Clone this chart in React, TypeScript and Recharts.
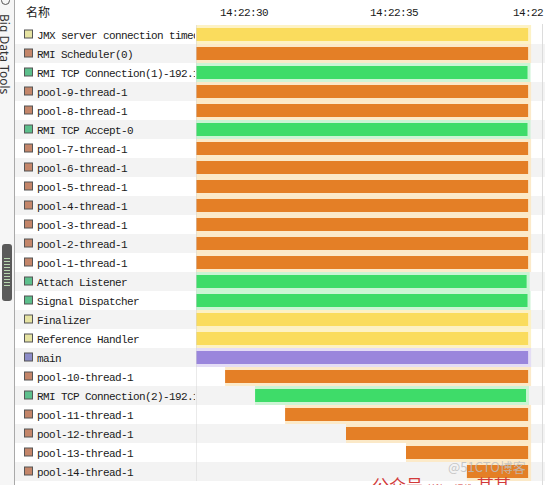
import React from "react"
import { BarChart, Bar, XAxis, YAxis, CartesianGrid } from "recharts"

// thread names, top to bottom
const threads = [
  "JMX server connection timeout",
  "RMI Scheduler(0)",
  "RMI TCP Connection(1)-192.1",
  "pool-9-thread-1",
  "pool-8-thread-1",
  "RMI TCP Accept-0",
  "pool-7-thread-1",
  "pool-6-thread-1",
  "pool-5-thread-1",
  "pool-4-thread-1",
  "pool-3-thread-1",
  "pool-2-thread-1",
  "pool-1-thread-1",
  "Attach Listener",
  "Signal Dispatcher",
  "Finalizer",
  "Reference Handler",
  "main",
  "pool-10-thread-1",
  "RMI TCP Connection(2)-192.1",
  "pool-11-thread-1",
  "pool-12-thread-1",
  "pool-13-thread-1",
  "pool-14-thread-1",
]

const states = [
  "wait", "park", "running", "park", "park", "running",
  "park", "park", "park", "park", "park", "park", "park",
  "running", "running", "wait", "wait", "sleeping",
  "park", "running", "park", "park", "park", "park",
]

// seconds after 14:22:00
const starts = [
  28.4, 28.4, 28.4, 28.4, 28.4, 28.4, 28.4, 28.4, 28.4, 28.4, 28.4, 28.4,
  28.4, 28.4, 28.4, 28.4, 28.4, 28.4, 29.37, 30.37, 31.37, 33.4, 35.4, 37.43,
]
const ends = [
  39.47, 39.47, 39.45, 39.47, 39.47, 39.45, 39.47, 39.47, 39.47, 39.47, 39.47, 39.47,
  39.47, 39.42, 39.45, 39.47, 39.47, 39.47, 39.47, 39.4, 39.47, 39.47, 39.47, 39.47,
]

const timeTicks = [30, 35, 40]

const barColor: Record<string, string> = {
  running: "#3edc69",
  park: "#e47f26",
  wait: "#fadc5d",
  sleeping: "#9a86dc",
}
const haloColor: Record<string, string> = {
  running: "#c4f3ce",
  park: "#fce6c0",
  wait: "#fdf0bb",
  sleeping: "#e0d8f5",
}
const iconColor: Record<string, string> = {
  running: "#5dbf8c",
  park: "#c4866a",
  wait: "#e6e3a2",
  sleeping: "#8c8cc8",
}
const rowFill = ["#ffffff", "#f3f3f3"]

const mono = "'Liberation Mono', 'DejaVu Sans Mono', monospace"

const data = threads.map((name, i) => ({
  name,
  state: states[i],
  span: [starts[i], ends[i]],
}))

const NameTick = (props: any) => {
  const { y, payload } = props
  const i = payload.index
  const st = states[i]
  return (
    <g>
      <defs>
        <clipPath id={`nc-${i}`}>
          <rect x={15} y={y - 10} width={180} height={20} />
        </clipPath>
      </defs>
      <rect x={15} y={y - 9.5} width={181} height={19} fill={rowFill[i % 2]} />
      <rect x={24.5} y={y - 4.5} width={8} height={8} fill={iconColor[st]} stroke="#555" strokeWidth={1} />
      <text
        x={37}
        y={y + 4}
        fontFamily={mono}
        fontSize={11}
        letterSpacing={-0.6}
        fill="#1a1a1a"
        clipPath={`url(#nc-${i})`}
      >
        {payload.value}
      </text>
    </g>
  )
}

const TimeTick = (props: any) => {
  const { x, payload } = props
  const s = String(payload.value).padStart(2, "0")
  return (
    <text x={x} y={16} textAnchor="middle" fontFamily={mono} fontSize={11} letterSpacing={-0.6} fill="#1a1a1a">
      {`14:22:${s}`}
    </text>
  )
}

const SpanBar = (props: any) => {
  const { x, y, width, height, payload } = props
  const st = payload.state
  return (
    <g>
      <rect x={x} y={y - 3} width={width + 3} height={height + 6} fill={haloColor[st]} fillOpacity={0.85} />
      <rect x={x} y={y} width={width} height={height} fill={barColor[st]} />
    </g>
  )
}

const RowBg = (props: any) => {
  const { x, y, width, height, index } = props
  return <rect x={x} y={y - 3} width={width} height={height + 6} fill={rowFill[(index ?? 0) % 2]} />
}

export default function App() {
  return (
    <div style={{ position: "absolute", left: 0, top: 0, width: 545, height: 485, background: "#fff", overflow: "hidden" }}>
      <BarChart
        width={545}
        height={485}
        data={data}
        layout="vertical"
        barSize={13}
        margin={{ top: 1, right: 0, bottom: 4, left: 0 }}
      >
        <CartesianGrid horizontal={false} stroke="#c9c9c9" strokeWidth={1} />
        <XAxis
          type="number"
          orientation="top"
          domain={[28.4, 40.033]}
          ticks={timeTicks}
          allowDataOverflow
          height={24}
          axisLine={false}
          tickLine={false}
          tick={<TimeTick />}
        />
        <YAxis
          type="category"
          dataKey="name"
          width={196}
          interval={0}
          axisLine={{ stroke: "#d6d6d6" }}
          tickLine={false}
          tick={<NameTick />}
        />
        <Bar dataKey="span" isAnimationActive={false} shape={<SpanBar />} background={<RowBg />} />
      </BarChart>

      {/* header */}
      <div style={{ position: "absolute", left: 26, top: 3, fontFamily: "'Noto Sans CJK SC'", fontSize: 12, color: "#1a1a1a" }}>名称</div>

      {/* side tool strip */}
      <div style={{ position: "absolute", left: 0, top: 0, width: 14, height: 485, background: "#f6f6f6", borderRight: "1px solid #a9a9a9" }} />
      <div style={{ position: "absolute", left: 1, top: -4, width: 9, height: 9, borderRadius: 5, border: "1.5px solid #555", boxSizing: "border-box" }} />
      <div
        style={{
          position: "absolute",
          left: 13,
          top: 14,
          transform: "rotate(90deg)",
          transformOrigin: "0 0",
          fontFamily: "'Noto Sans', sans-serif",
          fontSize: 12,
          color: "#333",
          whiteSpace: "nowrap",
        }}
      >
        Big Data Tools
      </div>
      <div style={{ position: "absolute", left: 2, top: 244, width: 10, height: 57, borderRadius: 3, background: "#5a5a5a" }}>
        <div
          style={{
            position: "absolute",
            left: 2,
            top: 14,
            width: 6,
            height: 30,
            background: "repeating-linear-gradient(#b9d8b0 0 1px, transparent 1px 3px)",
          }}
        />
      </div>
      <div style={{ position: "absolute", left: 542, top: 24, width: 1, height: 461, background: "#dcdcdc" }} />

      {/* watermark */}
      <div style={{ position: "absolute", left: 448, top: 457, fontFamily: "'Noto Sans CJK SC'", fontSize: 13, color: "rgba(190,190,190,0.85)" }}>
        @51CTO博客
      </div>
      <div style={{ position: "absolute", left: 372, top: 472, fontFamily: "'Noto Sans CJK SC'", fontSize: 17, color: "#d23a3a", whiteSpace: "nowrap" }}>
        公众号 <span style={{ fontSize: 9 }}>关注 IT运维</span> 某某
      </div>
    </div>
  )
}
